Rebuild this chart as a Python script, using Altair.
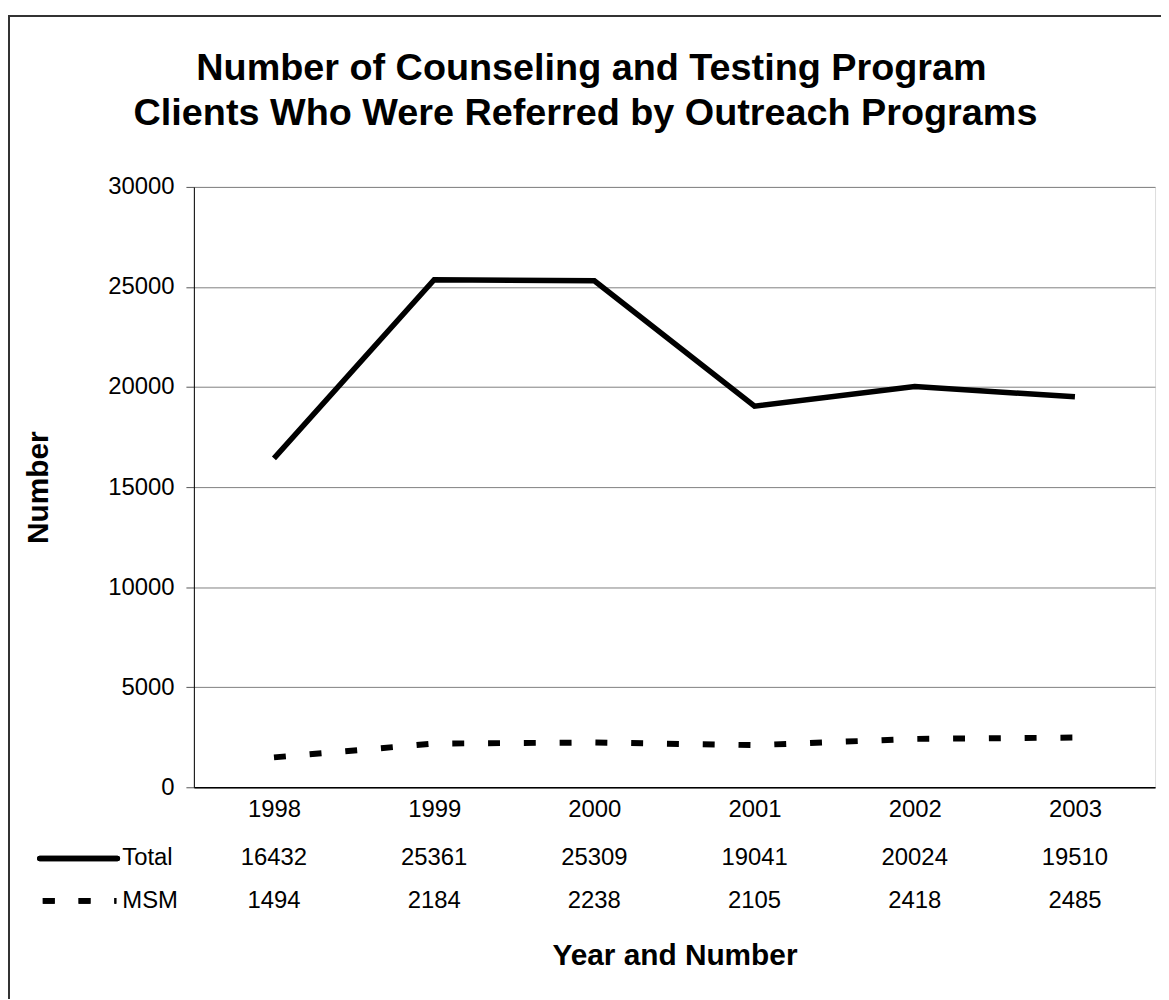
import altair as alt
import pandas as pd

# ---- data ----
years = ["1998", "1999", "2000", "2001", "2002", "2003"]
total = [16432, 25361, 25309, 19041, 20024, 19510]
msm = [1494, 2184, 2238, 2105, 2418, 2485]
series_names = ["Total", "MSM"]
y_ticks = [0, 5000, 10000, 15000, 20000, 25000, 30000]
title_lines = ["Number of Counseling and Testing Program",
               "Clients Who Were Referred by Outreach Programs"]

FONT = "Liberation Sans"
W, H = 967, 604

df = pd.DataFrame({
    "year": years * 2,
    "series": [series_names[0]] * len(years) + [series_names[1]] * len(years),
    "value": total + msm,
})

x_enc = alt.X(
    "year:O",
    sort=years,
    scale=alt.Scale(type="point", padding=0.5),
    axis=alt.Axis(
        title="Year and Number", labelAngle=0, ticks=False, domainColor="black",
        domainWidth=1.5, labelFont=FONT, labelFontSize=24, labelColor="black",
        labelPadding=10, titleFont=FONT, titleFontSize=30, titleFontWeight="bold",
        titleColor="black", titleX=W / 2, titleY=178, titleBaseline="alphabetic",
        titleAnchor="middle", titleAlign="center", grid=False,
    ),
)
y_enc = alt.Y(
    "value:Q",
    scale=alt.Scale(domain=[0, 30000], nice=False),
    axis=alt.Axis(
        values=y_ticks, format="d", title="Number", grid=True, gridColor="#808080",
        gridWidth=1, domainColor="black", domainWidth=1, tickColor="#555555",
        tickSize=8, labelFont=FONT, labelFontSize=24, labelColor="black",
        labelPadding=12, titleFont=FONT, titleFontSize=30, titleFontWeight="bold",
        titleColor="black", titleX=-147, titleY=H / 2, titleAngle=270,
        titleBaseline="alphabetic", titleAlign="center",
    ),
)

base = alt.Chart(df)

total_line = base.transform_filter(alt.datum.series == series_names[0]).mark_line(
    color="black", strokeWidth=5.5, strokeJoin="miter"
).encode(x=x_enc, y=y_enc)

msm_line = base.transform_filter(alt.datum.series == series_names[1]).mark_line(
    color="black", strokeWidth=6, strokeDash=[12, 24]
).encode(x=x_enc, y=y_enc)

table_total = base.transform_filter(alt.datum.series == series_names[0]).mark_text(
    font=FONT, fontSize=24, color="black", align="center", baseline="alphabetic"
).encode(x=x_enc, y=alt.value(682), text="value:Q")

table_msm = base.transform_filter(alt.datum.series == series_names[1]).mark_text(
    font=FONT, fontSize=24, color="black", align="center", baseline="alphabetic"
).encode(x=x_enc, y=alt.value(725), text="value:Q")

# legend keys in the data table
leg_df = pd.DataFrame({"s": series_names})
key_total = alt.Chart(leg_df).mark_rule(
    color="black", strokeWidth=5.5, strokeCap="round"
).encode(x=alt.value(-155), x2=alt.value(-77), y=alt.value(675.7))
key_msm = alt.Chart(leg_df).mark_rule(
    color="black", strokeWidth=6, strokeDash=[12, 24]
).encode(x=alt.value(-152), x2=alt.value(-78), y=alt.value(718.3))
lab_total = alt.Chart(pd.DataFrame({"s": [series_names[0]]})).mark_text(
    font=FONT, fontSize=24, color="black", align="left", baseline="alphabetic"
).encode(x=alt.value(-72), y=alt.value(682), text="s:N")
lab_msm = alt.Chart(pd.DataFrame({"s": [series_names[1]]})).mark_text(
    font=FONT, fontSize=24, color="black", align="left", baseline="alphabetic"
).encode(x=alt.value(-72), y=alt.value(725), text="s:N")

# titles
t1 = alt.Chart(pd.DataFrame({"t": [title_lines[0]]})).mark_text(
    font=FONT, fontSize=38, fontWeight="bold", color="black", align="center",
    baseline="alphabetic"
).encode(x=alt.value(400), y=alt.value(-108), text="t:N")
t2 = alt.Chart(pd.DataFrame({"t": [title_lines[1]]})).mark_text(
    font=FONT, fontSize=38, fontWeight="bold", color="black", align="center",
    baseline="alphabetic"
).encode(x=alt.value(394), y=alt.value(-62), text="t:N")

# outer chart frame (top and left edges visible)
frame_top = alt.Chart(leg_df).mark_rule(color="#333333", strokeWidth=2).encode(
    x=alt.value(-187), x2=alt.value(W + 10), y=alt.value(-172)
)
frame_left = alt.Chart(leg_df).mark_rule(color="#333333", strokeWidth=2).encode(
    x=alt.value(-186), y=alt.value(-173), y2=alt.value(830)
)

chart = alt.layer(
    total_line, msm_line, table_total, table_msm, key_total, key_msm,
    lab_total, lab_msm, t1, t2, frame_top, frame_left,
).properties(
    width=W, height=H,
    autosize=alt.AutoSizeParams(type="none"),
    padding={"left": 187, "top": 177, "right": 6, "bottom": 210},
).configure_view(
    stroke="#808080", strokeWidth=1.5
).configure(background="white")

chart.save("out.html", embed_options={"renderer": "svg", "actions": False})
